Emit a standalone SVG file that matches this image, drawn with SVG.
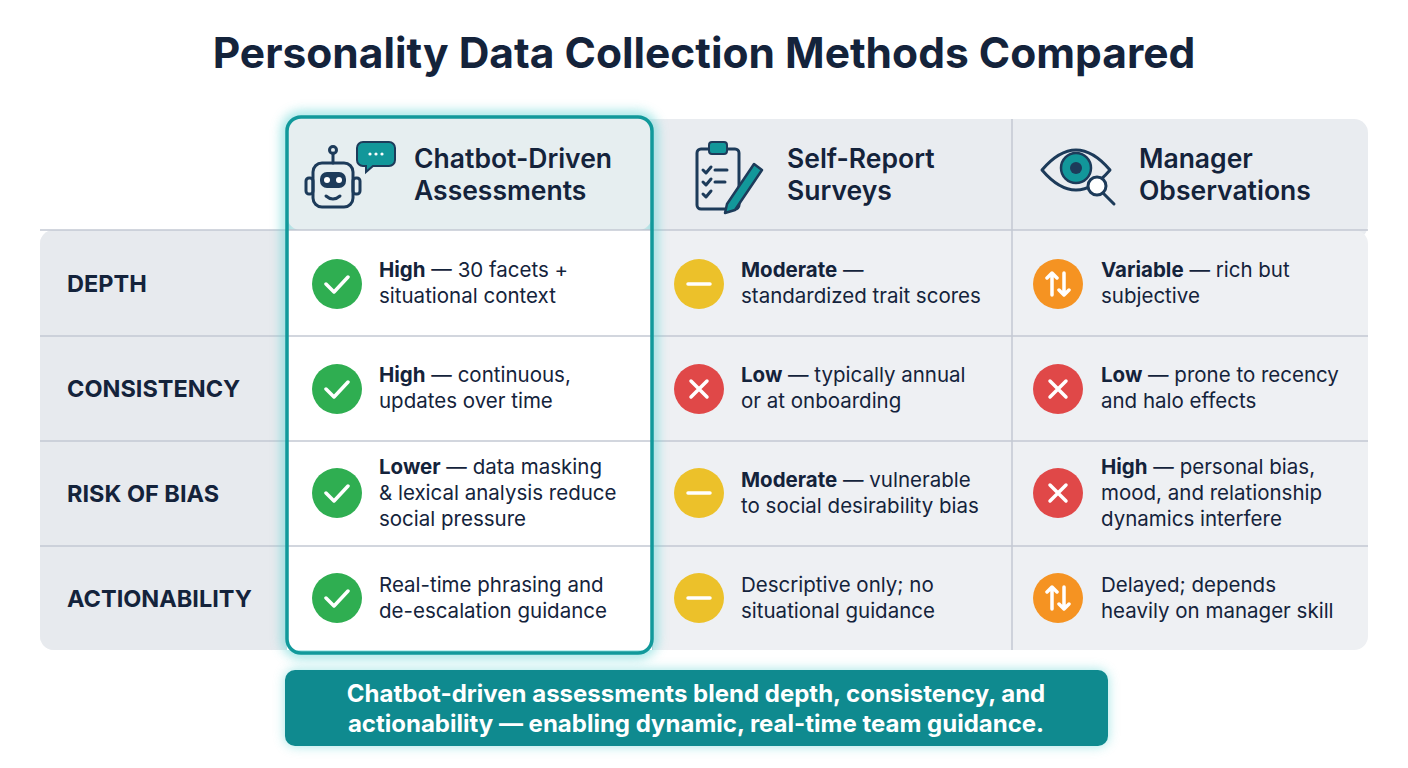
<svg xmlns="http://www.w3.org/2000/svg" width="1408" height="768" viewBox="0 0 1408 768">
<defs>
<style>
text{font-family:Inter,"Liberation Sans",sans-serif;fill:#14233b}
.t{font-size:42.5px;font-weight:700}
.h{font-size:26.5px;font-weight:600}
.r{font-size:23.5px;font-weight:700}
.c{font-size:20.5px}
.b{font-weight:700}
.f{font-size:24px;font-weight:700;fill:#fff}
.ln{stroke:#c3c9d3;stroke-width:1.5}
.ic{fill:none;stroke:#1d3b5a;stroke-width:3;stroke-linecap:round;stroke-linejoin:round}
.w{fill:none;stroke:#fff;stroke-width:3.5;stroke-linecap:round;stroke-linejoin:round}
</style>
<filter id="gl" x="-20%" y="-20%" width="140%" height="140%"><feGaussianBlur stdDeviation="6"/></filter>
</defs>
<rect width="1408" height="768" fill="#fff"/>
<text class="t" x="704" y="68" text-anchor="middle">Personality Data Collection Methods Compared</text>
<g id="table">
<rect x="287" y="119" width="1081" height="120" rx="14" fill="#e9ecf0"/>
<rect x="40" y="230" width="1328" height="420" rx="14" fill="#eef0f3"/>
<rect x="40" y="230" width="247" height="420" rx="14" fill="#e7eaee"/>
<rect x="270" y="230" width="17" height="420" fill="#e7eaee"/>
<line class="ln" x1="40" y1="230" x2="1368" y2="230"/>
<line class="ln" x1="40" y1="336" x2="1368" y2="336"/>
<line class="ln" x1="40" y1="441" x2="1368" y2="441"/>
<line class="ln" x1="40" y1="546" x2="1368" y2="546"/>
<line class="ln" x1="1012" y1="119" x2="1012" y2="650"/>
<line class="ln" x1="652" y1="230" x2="652" y2="650"/>
</g>
<g id="highlight">
<rect x="287" y="117" width="365" height="536" rx="14" fill="none" stroke="#5fd3d3" stroke-width="10" filter="url(#gl)" opacity="0.7"/>
<rect x="287" y="117" width="365" height="113" rx="14" fill="#e6eef0"/>
<rect x="287" y="230" width="365" height="420" fill="#fff"/>
<line class="ln" x1="287" y1="336" x2="652" y2="336"/>
<line class="ln" x1="287" y1="441" x2="652" y2="441"/>
<line class="ln" x1="287" y1="546" x2="652" y2="546"/>
<line class="ln" x1="287" y1="230" x2="652" y2="230"/>
<rect x="287" y="117" width="365" height="536" rx="14" fill="none" stroke="#11999b" stroke-width="3.5"/>
</g>
<g id="head-chatbot">
<rect x="313" y="163" width="40" height="44" rx="9" class="ic"/>
<rect x="306" y="178" width="7" height="16" rx="3" class="ic"/>
<rect x="353" y="178" width="7" height="16" rx="3" class="ic"/>
<rect x="320" y="172" width="26" height="16" rx="7" fill="#1d3b5a"/>
<circle cx="327" cy="180" r="3" fill="#fff"/><circle cx="339" cy="180" r="3" fill="#fff"/>
<path class="ic" d="M326 196 q7 6 14 0"/>
<path class="ic" d="M333 163 v-10"/><circle cx="333" cy="150" r="3.5" class="ic"/>
<path d="M363 142 h26 a6 6 0 0 1 6 6 v12 a6 6 0 0 1 -6 6 h-16 l-7 6 v-6 h-3 a6 6 0 0 1 -6 -6 v-12 a6 6 0 0 1 6 -6z" fill="#12979a" stroke="#1d3b5a" stroke-width="2"/>
<circle cx="370" cy="154" r="1.6" fill="#fff"/><circle cx="376" cy="154" r="1.6" fill="#fff"/><circle cx="382" cy="154" r="1.6" fill="#fff"/>
<text class="h" x="414" y="168">Chatbot-Driven</text>
<text class="h" x="414" y="200">Assessments</text>
</g>
<g id="head-survey">
<rect x="697" y="149" width="42" height="60" rx="4" class="ic"/>
<rect x="709" y="142" width="18" height="12" rx="3" fill="#12979a" stroke="#1d3b5a" stroke-width="2"/>
<path class="ic" stroke-width="2" d="M703 170 l3 3 5-6 M715 170 h12 M703 182 l3 3 5-6 M715 182 h10 M703 194 l3 3 5-6"/>
<path d="M727 204 l27 -40 l8 6 l-27 40 l-10 3z" fill="#12979a" stroke="#1d3b5a" stroke-width="2.5" stroke-linejoin="round"/>
<text class="h" x="787" y="168">Self-Report</text>
<text class="h" x="787" y="200">Surveys</text>
</g>
<g id="head-manager">
<path class="ic" d="M1042 170 q34 -40 68 0 q-34 40 -68 0z"/>
<circle cx="1076" cy="168" r="15" fill="#12979a" stroke="#1d3b5a" stroke-width="2.5"/>
<circle cx="1076" cy="168" r="6" fill="#1d3b5a"/>
<circle cx="1097" cy="186" r="9" fill="#fff" stroke="#1d3b5a" stroke-width="3"/>
<path class="ic" d="M1103 193 l11 11"/>
<text class="h" x="1139" y="168">Manager</text>
<text class="h" x="1139" y="200">Observations</text>
</g>
<g id="row-labels">
<text class="r" x="67" y="292">DEPTH</text>
<text class="r" x="67" y="397">CONSISTENCY</text>
<text class="r" x="67" y="502">RISK OF BIAS</text>
<text class="r" x="67" y="607">ACTIONABILITY</text>
</g>
<g id="cells">
<g fill="#2fae51"><circle cx="337" cy="284" r="25"/><circle cx="337" cy="389" r="25"/><circle cx="337" cy="493" r="25"/><circle cx="337" cy="598" r="25"/></g>
<path class="w" d="M326 284 l8 8 14-15 M326 389 l8 8 14-15 M326 493 l8 8 14-15 M326 598 l8 8 14-15"/>
<text class="c" x="379" y="277"><tspan class="b">High</tspan> — 30 facets +</text>
<text class="c" x="379" y="303">situational context</text>
<text class="c" x="379" y="382"><tspan class="b">High</tspan> — continuous,</text>
<text class="c" x="379" y="408">updates over time</text>
<text class="c" x="379" y="474"><tspan class="b">Lower</tspan> — data masking</text>
<text class="c" x="379" y="500">&amp; lexical analysis reduce</text>
<text class="c" x="379" y="526">social pressure</text>
<text class="c" x="379" y="592">Real-time phrasing and</text>
<text class="c" x="379" y="618">de-escalation guidance</text>

<g fill="#ecc12a"><circle cx="699" cy="284" r="25"/><circle cx="699" cy="493" r="25"/><circle cx="699" cy="598" r="25"/></g>
<path class="w" d="M688 284 h22 M688 493 h22 M688 598 h22"/>
<circle cx="699" cy="389" r="25" fill="#e04848"/>
<path class="w" d="M691 381 l16 16 M707 381 l-16 16"/>
<text class="c" x="741" y="277"><tspan class="b">Moderate</tspan> —</text>
<text class="c" x="741" y="303">standardized trait scores</text>
<text class="c" x="741" y="382"><tspan class="b">Low</tspan> — typically annual</text>
<text class="c" x="741" y="408">or at onboarding</text>
<text class="c" x="741" y="487"><tspan class="b">Moderate</tspan> — vulnerable</text>
<text class="c" x="741" y="513">to social desirability bias</text>
<text class="c" x="741" y="592">Descriptive only; no</text>
<text class="c" x="741" y="618">situational guidance</text>

<g fill="#f59322"><circle cx="1058" cy="284" r="25"/><circle cx="1058" cy="598" r="25"/></g>
<path class="w" stroke-width="2.5" d="M1052 295 v-22 l-5 5 M1052 273 l5 5 M1064 273 v22 l-5 -5 M1064 295 l5 -5 M1052 609 v-22 l-5 5 M1052 587 l5 5 M1064 587 v22 l-5 -5 M1064 609 l5 -5"/>
<g fill="#e04848"><circle cx="1058" cy="389" r="25"/><circle cx="1058" cy="493" r="25"/></g>
<path class="w" d="M1050 381 l16 16 M1066 381 l-16 16 M1050 485 l16 16 M1066 485 l-16 16"/>
<text class="c" x="1101" y="277"><tspan class="b">Variable</tspan> — rich but</text>
<text class="c" x="1101" y="303">subjective</text>
<text class="c" x="1101" y="382"><tspan class="b">Low</tspan> — prone to recency</text>
<text class="c" x="1101" y="408">and halo effects</text>
<text class="c" x="1101" y="474"><tspan class="b">High</tspan> — personal bias,</text>
<text class="c" x="1101" y="500">mood, and relationship</text>
<text class="c" x="1101" y="526">dynamics interfere</text>
<text class="c" x="1101" y="592">Delayed; depends</text>
<text class="c" x="1101" y="618">heavily on manager skill</text>
</g>
<g id="footer">
<rect x="285" y="670" width="823" height="76" rx="10" fill="#5fd3d3" filter="url(#gl)" opacity="0.6"/>
<rect x="285" y="670" width="823" height="76" rx="10" fill="#0f8a8f"/>
<text class="f" x="696" y="702" text-anchor="middle">Chatbot-driven assessments blend depth, consistency, and</text>
<text class="f" x="696" y="732" text-anchor="middle">actionability — enabling dynamic, real-time team guidance.</text>
</g>
</svg>
